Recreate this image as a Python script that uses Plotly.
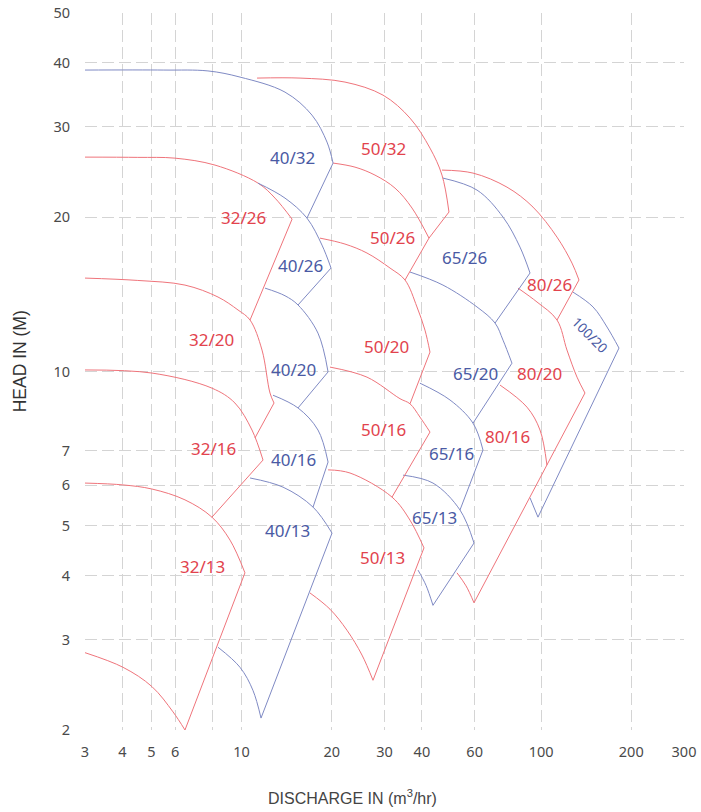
import math
import plotly.graph_objects as go

# ---------------- data (discharge m3/hr, head m) ----------------
# family 32
q_32_26 = [3.00, 4.5, 5.99, 8.15, 11.34, 12.93, 14.74]
h_32_26 = [26.18, 26.15, 26.06, 25.26, 23.30, 21.78, 19.82]
q_32_20 = [3.00, 4.5, 6.47, 8.34, 9.73, 10.67, 11.70, 12.44, 12.83]
h_32_20 = [15.21, 15.05, 14.74, 13.97, 13.18, 12.60, 11.01, 9.08, 8.68]
q_32_16 = [3.00, 5.02, 7.96, 9.50, 10.83, 11.79]
h_32_16 = [10.07, 9.93, 9.28, 8.68, 7.69, 6.72]
q_32_13 = [3.00, 4.02, 5.02, 6.47, 7.96, 9.15, 10.26]
h_32_13 = [6.06, 6.01, 5.90, 5.62, 5.20, 4.69, 4.05]
q_32_min = [3.00, 4.02, 5.02, 5.90, 6.47]
h_32_min = [2.83, 2.65, 2.43, 2.17, 2.00]
e_32_q = [[14.74, 10.67], [12.83, 11.08], [11.79, 7.96], [10.26, 6.47]]
e_32_h = [[19.82, 12.60], [8.68, 7.42], [6.72, 5.20], [4.05, 2.00]]

# family 40
q_40_32 = [3.00, 5.5, 7.72, 9.88, 13.96, 17.18, 19.28, 20.20]
h_40_32 = [38.70, 38.70, 38.55, 37.50, 35.05, 31.61, 28.01, 25.49]
q_40_26 = [11.34, 13.96, 16.53, 18.55, 19.89]
h_40_26 = [23.30, 21.78, 19.91, 17.64, 15.91]
q_40_20 = [11.97, 13.96, 15.43, 17.99, 19.44]
h_40_20 = [14.54, 14.05, 13.48, 11.88, 9.98]
q_40_16 = [12.73, 15.43, 17.99, 19.44]
h_40_16 = [8.99, 8.49, 7.69, 6.66]
q_40_13 = [10.67, 13.75, 17.32, 20.04]
h_40_13 = [6.20, 5.95, 5.44, 4.84]
q_40_min = [8.34, 9.88, 10.91, 11.61]
h_40_min = [2.90, 2.65, 2.39, 2.11]
e_40_q = [[20.20, 16.53], [19.89, 15.43], [19.44, 15.43], [19.44, 17.32], [20.04, 11.61]]
e_40_h = [[25.49, 19.91], [15.91, 13.48], [9.98, 8.49], [6.66, 5.44], [4.84, 2.11]]

# family 50
q_50_32 = [11.26, 15.67, 22.14, 29.66, 36.50, 42.56, 46.67, 49.25]
h_50_32 = [37.33, 37.33, 36.67, 34.58, 31.19, 27.26, 24.15, 20.46]
q_50_26 = [20.20, 23.91, 27.88, 32.53, 37.07, 42.23]
h_50_26 = [25.49, 25.03, 24.15, 22.78, 20.83, 18.20]
q_50_20 = [18.27, 22.14, 26.22, 31.30, 35.12, 38.51, 40.95, 42.56]
h_50_20 = [18.20, 17.72, 17.02, 15.91, 15.08, 13.36, 12.04, 10.91]
q_50_16 = [19.73, 26.22, 33.80, 36.50, 39.40, 42.56]
h_50_16 = [10.20, 9.75, 8.85, 8.65, 8.15, 7.62]
q_50_13 = [19.44, 23.01, 31.78, 36.50, 40.64]
h_50_13 = [6.43, 6.34, 5.69, 5.13, 4.53]
q_50_min = [16.92, 19.73, 22.48, 25.23, 27.46]
h_50_min = [3.70, 3.44, 3.13, 2.80, 2.50]
e_50_q = [[49.25, 42.23], [42.23, 35.12], [42.56, 36.50], [42.56, 31.78], [40.64, 27.46]]
e_50_h = [[20.46, 18.20], [18.20, 15.08], [10.91, 8.65], [7.62, 5.69], [4.53, 2.50]]

# family 65
q_65_26 = [47.02, 61.09, 74.62, 85.02, 91.83]
h_65_26 = [23.83, 22.58, 20.00, 17.48, 15.56]
q_65_20 = [36.50, 47.02, 61.09, 70.18, 74.62, 79.93]
h_65_20 = [15.63, 14.74, 13.36, 12.43, 11.51, 10.38]
q_65_16 = [39.40, 49.63, 59.24, 63.97]
h_65_16 = [9.49, 8.80, 7.93, 7.03]
q_65_13 = [34.59, 43.55, 53.60, 59.70]
h_65_13 = [6.28, 6.06, 5.37, 4.63]
q_65_min = [38.82, 41.27, 43.55]
h_65_min = [4.10, 3.83, 3.50]
e_65_q = [[91.83, 70.18], [79.93, 59.24], [63.97, 53.60], [59.70, 43.55]]
e_65_h = [[15.56, 12.43], [10.38, 7.93], [7.03, 5.37], [4.63, 3.50]]

# family 80
q_80_26 = [46.67, 59.24, 76.92, 93.96, 113.0, 126.8, 133.8]
h_80_26 = [24.70, 24.37, 22.88, 20.92, 18.28, 16.27, 15.08]
q_80_20 = [83.72, 96.9, 113.0, 122.0, 131.8, 140.1]
h_80_20 = [14.54, 13.66, 12.60, 11.01, 9.75, 9.08]
q_80_16 = [72.91, 89.73, 99.15, 104.6]
h_80_16 = [9.41, 8.52, 7.69, 6.57]
q_80_min = [52.38, 56.15, 59.70]
h_80_min = [4.05, 3.82, 3.54]
e_80_q = [[133.8, 113.0], [140.1, 59.70]]
e_80_h = [[15.08, 12.60], [9.08, 3.54]]

# family 100
q_100_20 = [127.8, 149.1, 166.0, 182.0]
h_100_20 = [14.28, 13.36, 12.21, 11.11]
q_100_min = [91.83, 97.63]
h_100_min = [5.67, 5.20]
e_100_q = [[182.0, 97.63]]
e_100_h = [[11.11, 5.20]]

# labels
label_text = ["40/32", "50/32", "32/26", "50/26", "65/26", "40/26", "80/26", "100/20",
              "32/20", "40/20", "50/20", "65/20", "80/20", "32/16", "50/16", "80/16",
              "40/16", "65/16", "65/13", "40/13", "32/13", "50/13"]
label_q = [14.74, 29.66, 10.11, 31.78, 55.7, 15.67, 106.3, 145.6,
           7.96, 14.85, 30.35, 60.6, 99.15, 8.03, 29.66, 77.5,
           14.85, 50.4, 43.9, 14.18, 7.38, 29.43]
label_h = [26.18, 27.26, 20.0, 18.28, 16.71, 16.12, 14.81, 11.78,
           11.57, 10.07, 11.21, 9.93, 9.93, 7.09, 7.72, 7.48,
           6.75, 6.93, 5.20, 4.89, 4.16, 4.33]
label_color = ["b", "r", "r", "r", "b", "b", "r", "b",
               "r", "b", "r", "b", "r", "r", "r", "r",
               "b", "b", "b", "b", "r", "r"]

x_ticks = [3, 4, 5, 6, 10, 20, 30, 40, 60, 100, 200, 300]
x_minor_grid = [8]
y_ticks = [2, 3, 4, 5, 6, 7, 10, 20, 30, 40, 50]

# ---------------- styling ----------------
RED_LINE = "#ef747b"
BLUE_LINE = "#7f8ac4"
RED_TEXT = "#e2434d"
BLUE_TEXT = "#4a5aa4"
FONT = "Noto Sans, Lato, sans-serif"
TITLE_FONT = "Liberation Sans, Arial, sans-serif"
GRID = "#d4d4d4"
DASH = "12px,5px"

fig = go.Figure()

red_curves = [(q_32_26, h_32_26), (q_32_20, h_32_20), (q_32_16, h_32_16), (q_32_13, h_32_13),
              (q_32_min, h_32_min),
              (q_50_32, h_50_32), (q_50_26, h_50_26), (q_50_20, h_50_20), (q_50_16, h_50_16),
              (q_50_13, h_50_13), (q_50_min, h_50_min),
              (q_80_26, h_80_26), (q_80_20, h_80_20), (q_80_16, h_80_16), (q_80_min, h_80_min)]
blue_curves = [(q_40_32, h_40_32), (q_40_26, h_40_26), (q_40_20, h_40_20), (q_40_16, h_40_16),
               (q_40_13, h_40_13), (q_40_min, h_40_min),
               (q_65_26, h_65_26), (q_65_20, h_65_20), (q_65_16, h_65_16), (q_65_13, h_65_13),
               (q_65_min, h_65_min),
               (q_100_20, h_100_20), (q_100_min, h_100_min)]
red_edges = [(e_32_q, e_32_h), (e_50_q, e_50_h), (e_80_q, e_80_h)]
blue_edges = [(e_40_q, e_40_h), (e_65_q, e_65_h), (e_100_q, e_100_h)]

for curves, col in [(red_curves, RED_LINE), (blue_curves, BLUE_LINE)]:
    for q, h in curves:
        fig.add_trace(go.Scatter(x=q, y=h, mode="lines",
                                 line=dict(color=col, width=1, shape="spline", smoothing=1.0),
                                 hoverinfo="skip", showlegend=False))
for edges, col in [(red_edges, RED_LINE), (blue_edges, BLUE_LINE)]:
    for eq, eh in edges:
        for q, h in zip(eq, eh):
            fig.add_trace(go.Scatter(x=q, y=h, mode="lines",
                                     line=dict(color=col, width=1),
                                     hoverinfo="skip", showlegend=False))

for t, q, h, c in zip(label_text, label_q, label_h, label_color):
    rot = t == "100/20"
    fig.add_annotation(x=math.log10(q), y=math.log10(h), text=t, showarrow=False,
                       xref="x", yref="y", textangle=45 if rot else 0,
                       xanchor="center", yanchor="middle",
                       font=dict(family=FONT, size=13.5 if rot else 17,
                                 color=RED_TEXT if c == "r" else BLUE_TEXT))

fig.add_annotation(x=0.447, y=-0.0935, xref="paper", yref="paper", showarrow=False,
                   xanchor="center", yanchor="middle",
                   text="DISCHARGE IN (m<sup>3</sup>/hr)",
                   font=dict(family=TITLE_FONT, size=16, color="#444444"))
fig.add_annotation(x=-0.108, y=0.5146, xref="paper", yref="paper", showarrow=False,
                   xanchor="center", yanchor="middle",
                   text="HEAD IN (M)", textangle=-90,
                   font=dict(family=TITLE_FONT, size=17.5, color="#333333"))

fig.update_xaxes(type="log", range=[math.log10(3), math.log10(300)],
                 tickvals=x_ticks, automargin=False,
                 showgrid=True, gridcolor=GRID, gridwidth=1, griddash=DASH,
                 minor=dict(tickvals=x_minor_grid, showgrid=True, gridcolor=GRID,
                            gridwidth=1, griddash=DASH, ticks=""),
                 zeroline=False, showline=False, ticks="outside", ticklen=9,
                 tickcolor="rgba(0,0,0,0)",
                 tickfont=dict(family=FONT, size=14.5, color="#4a4a4a"))
fig.update_yaxes(type="log", range=[math.log10(2), math.log10(50)],
                 tickvals=y_ticks, automargin=False,
                 showgrid=True, gridcolor=GRID, gridwidth=1, griddash=DASH,
                 zeroline=False, showline=False, ticks="outside", ticklen=11,
                 tickcolor="rgba(0,0,0,0)",
                 tickfont=dict(family=FONT, size=14.5, color="#4a4a4a"))

fig.update_layout(width=701, height=812,
                  margin=dict(l=85, r=17, t=13, b=82),
                  paper_bgcolor="white", plot_bgcolor="white",
                  showlegend=False)

fig.write_html("out.html", config={"displayModeBar": False},
               post_script="document.body.style.margin='0';")
